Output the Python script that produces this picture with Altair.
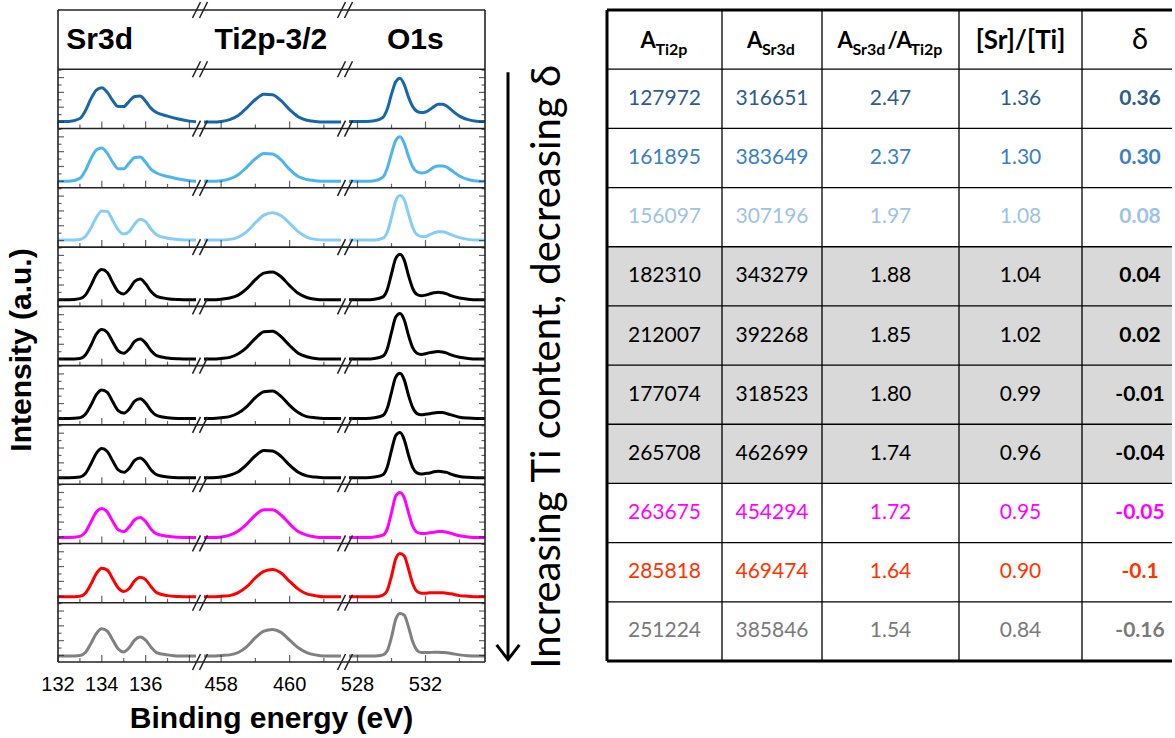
import altair as alt
import pandas as pd

# ---------------- data ----------------
N = 10
LINE_COLORS = ["#1767a8", "#4db5ee", "#86cdf5", "#000000", "#000000",
               "#000000", "#000000", "#ff00ff", "#ff0000", "#808080"]
TEXT_COLORS = ["#2e5d8c", "#3a80c4", "#9dc3e6", "#000000", "#000000",
               "#000000", "#000000", "#ff00ff", "#ff3300", "#7a7a7a"]
ROW_BG = ["#ffffff", "#ffffff", "#ffffff", "#d9d9d9", "#d9d9d9",
          "#d9d9d9", "#d9d9d9", "#ffffff", "#ffffff", "#ffffff"]

SR_E = [132.0, 132.5, 133.0, 133.25, 133.5, 133.75, 134.0, 134.25, 134.5, 134.75, 135.0,
        135.25, 135.5, 135.75, 136.0, 136.25, 136.5, 137.0, 137.5, 138.0, 138.3]
TI_E = [457.5, 457.75, 458.0, 458.25, 458.5, 458.75, 459.0, 459.25, 459.5, 459.75,
        460.0, 460.25, 460.5, 460.75, 461.0, 461.5]
O_E = [527.5, 528.0, 528.5, 529.0, 529.5, 529.75, 530.0, 530.25, 530.5, 530.75, 531.0,
       531.25, 531.5, 531.75, 532.0, 532.25, 532.5, 532.75, 533.0, 533.25, 533.5,
       534.0, 534.5, 535.0, 535.5]

SR_I = [
    [0.12, 0.12, 0.17, 0.30, 0.50, 0.65, 0.69, 0.61, 0.47, 0.37, 0.37, 0.46, 0.54, 0.55, 0.46, 0.34, 0.27, 0.21, 0.16, 0.125, 0.115],
    [0.11, 0.11, 0.16, 0.29, 0.49, 0.64, 0.67, 0.58, 0.43, 0.32, 0.32, 0.42, 0.51, 0.52, 0.43, 0.31, 0.25, 0.19, 0.15, 0.12, 0.11],
    [0.12, 0.12, 0.13, 0.18, 0.32, 0.50, 0.61, 0.60, 0.45, 0.29, 0.22, 0.26, 0.39, 0.47, 0.43, 0.30, 0.21, 0.15, 0.13, 0.12, 0.12],
    [0.11, 0.11, 0.13, 0.19, 0.35, 0.54, 0.62, 0.57, 0.40, 0.25, 0.21, 0.29, 0.42, 0.46, 0.38, 0.25, 0.17, 0.13, 0.115, 0.11, 0.11],
    [0.11, 0.11, 0.12, 0.18, 0.34, 0.53, 0.61, 0.56, 0.40, 0.25, 0.21, 0.28, 0.41, 0.45, 0.38, 0.25, 0.17, 0.13, 0.115, 0.11, 0.11],
    [0.11, 0.11, 0.12, 0.18, 0.33, 0.51, 0.59, 0.55, 0.39, 0.24, 0.20, 0.27, 0.40, 0.44, 0.37, 0.24, 0.16, 0.12, 0.11, 0.11, 0.11],
    [0.11, 0.11, 0.12, 0.18, 0.34, 0.52, 0.60, 0.55, 0.39, 0.24, 0.20, 0.27, 0.40, 0.44, 0.37, 0.24, 0.16, 0.12, 0.11, 0.11, 0.11],
    [0.10, 0.10, 0.12, 0.19, 0.36, 0.53, 0.59, 0.53, 0.37, 0.23, 0.20, 0.28, 0.40, 0.44, 0.37, 0.24, 0.16, 0.12, 0.105, 0.10, 0.10],
    [0.10, 0.10, 0.11, 0.16, 0.31, 0.49, 0.58, 0.55, 0.40, 0.25, 0.19, 0.24, 0.37, 0.43, 0.39, 0.27, 0.17, 0.12, 0.105, 0.10, 0.10],
    [0.10, 0.10, 0.11, 0.16, 0.31, 0.48, 0.56, 0.52, 0.37, 0.22, 0.17, 0.24, 0.37, 0.42, 0.37, 0.25, 0.16, 0.12, 0.10, 0.10, 0.10],
]
TI_I = [
    [0.11, 0.11, 0.12, 0.15, 0.22, 0.35, 0.49, 0.58, 0.57, 0.47, 0.32, 0.20, 0.14, 0.12, 0.11, 0.11],
    [0.11, 0.11, 0.12, 0.15, 0.22, 0.35, 0.49, 0.58, 0.57, 0.47, 0.31, 0.19, 0.14, 0.12, 0.11, 0.11],
    [0.12, 0.12, 0.12, 0.13, 0.17, 0.26, 0.41, 0.54, 0.58, 0.53, 0.40, 0.26, 0.17, 0.13, 0.12, 0.12],
    [0.11, 0.11, 0.12, 0.14, 0.19, 0.30, 0.45, 0.56, 0.58, 0.50, 0.35, 0.22, 0.15, 0.12, 0.11, 0.11],
    [0.11, 0.11, 0.12, 0.14, 0.20, 0.31, 0.46, 0.57, 0.58, 0.49, 0.34, 0.21, 0.15, 0.12, 0.11, 0.11],
    [0.11, 0.11, 0.12, 0.14, 0.20, 0.31, 0.46, 0.56, 0.57, 0.48, 0.33, 0.21, 0.14, 0.12, 0.11, 0.11],
    [0.11, 0.11, 0.12, 0.15, 0.21, 0.33, 0.48, 0.57, 0.56, 0.47, 0.32, 0.20, 0.14, 0.12, 0.11, 0.11],
    [0.10, 0.10, 0.11, 0.14, 0.21, 0.33, 0.48, 0.57, 0.57, 0.48, 0.33, 0.20, 0.14, 0.11, 0.10, 0.10],
    [0.10, 0.10, 0.11, 0.12, 0.17, 0.27, 0.42, 0.53, 0.56, 0.50, 0.36, 0.23, 0.15, 0.12, 0.10, 0.10],
    [0.10, 0.10, 0.11, 0.12, 0.16, 0.26, 0.41, 0.52, 0.55, 0.50, 0.37, 0.24, 0.16, 0.12, 0.10, 0.10],
]
O_I = [
    [0.12, 0.12, 0.12, 0.13, 0.19, 0.33, 0.58, 0.79, 0.85, 0.74, 0.53, 0.37, 0.29, 0.27, 0.28, 0.32, 0.37, 0.41, 0.41, 0.38, 0.32, 0.21, 0.15, 0.125, 0.12],
    [0.11, 0.11, 0.11, 0.12, 0.18, 0.33, 0.58, 0.80, 0.86, 0.75, 0.53, 0.35, 0.27, 0.25, 0.26, 0.30, 0.35, 0.37, 0.37, 0.35, 0.30, 0.20, 0.14, 0.115, 0.11],
    [0.12, 0.12, 0.12, 0.12, 0.15, 0.25, 0.50, 0.78, 0.87, 0.80, 0.56, 0.33, 0.21, 0.18, 0.18, 0.21, 0.24, 0.26, 0.26, 0.24, 0.21, 0.16, 0.13, 0.12, 0.12],
    [0.11, 0.11, 0.11, 0.12, 0.16, 0.28, 0.55, 0.81, 0.88, 0.78, 0.52, 0.30, 0.20, 0.18, 0.19, 0.21, 0.23, 0.24, 0.23, 0.21, 0.18, 0.14, 0.12, 0.11, 0.11],
    [0.11, 0.11, 0.11, 0.12, 0.16, 0.28, 0.56, 0.82, 0.88, 0.77, 0.51, 0.30, 0.21, 0.19, 0.20, 0.22, 0.23, 0.24, 0.23, 0.21, 0.18, 0.14, 0.12, 0.11, 0.11],
    [0.11, 0.11, 0.11, 0.12, 0.16, 0.28, 0.55, 0.81, 0.87, 0.76, 0.50, 0.29, 0.19, 0.17, 0.18, 0.19, 0.20, 0.21, 0.21, 0.19, 0.17, 0.13, 0.115, 0.11, 0.11],
    [0.11, 0.11, 0.11, 0.12, 0.16, 0.29, 0.57, 0.82, 0.87, 0.75, 0.49, 0.28, 0.19, 0.17, 0.18, 0.19, 0.21, 0.22, 0.21, 0.20, 0.17, 0.13, 0.115, 0.11, 0.11],
    [0.10, 0.10, 0.10, 0.11, 0.14, 0.25, 0.52, 0.80, 0.86, 0.77, 0.52, 0.29, 0.19, 0.17, 0.17, 0.18, 0.19, 0.20, 0.20, 0.19, 0.17, 0.13, 0.11, 0.10, 0.10],
    [0.10, 0.10, 0.10, 0.10, 0.13, 0.21, 0.45, 0.74, 0.83, 0.79, 0.57, 0.32, 0.19, 0.16, 0.16, 0.17, 0.17, 0.17, 0.17, 0.16, 0.15, 0.12, 0.11, 0.10, 0.10],
    [0.10, 0.10, 0.10, 0.10, 0.12, 0.19, 0.42, 0.72, 0.82, 0.79, 0.59, 0.34, 0.20, 0.16, 0.16, 0.16, 0.165, 0.165, 0.16, 0.155, 0.145, 0.12, 0.105, 0.10, 0.10],
]

A_TI2P = ["127972", "161895", "156097", "182310", "212007", "177074", "265708", "263675", "285818", "251224"]
A_SR3D = ["316651", "383649", "307196", "343279", "392268", "318523", "462699", "454294", "469474", "385846"]
RATIO = ["2.47", "2.37", "1.97", "1.88", "1.85", "1.80", "1.74", "1.72", "1.64", "1.54"]
SR_TI = ["1.36", "1.30", "1.08", "1.04", "1.02", "0.99", "0.96", "0.95", "0.90", "0.84"]
DELTA = ["0.36", "0.30", "0.08", "0.04", "0.02", "-0.01", "-0.04", "-0.05", "-0.1", "-0.16"]

HEADERS = ["Sr3d", "Ti2p-3/2", "O1s"]
XLABELS = [132, 134, 136, 458, 460, 528, 532]
XTICK_MAJOR = [132, 134, 136, 138, 458, 460, 528, 532]
XTICK_MINOR = [133, 135, 137, 459, 461, 530, 534]
YTICK_MAJOR = [0.11, 0.36, 0.61, 0.86]
YTICK_MINOR = [0.235, 0.485, 0.735, 0.985]
X_TITLE = "Binding energy (eV)"
Y_TITLE = "Intensity (a.u.)"
ARROW_TEXT = "Increasing Ti content, decreasing \u03b4"

# ---------------- layout (not data) ----------------
SEGMENTS = [(132.0, 138.3, 0.0, 138.0), (457.5, 461.5, 146.0, 283.0), (527.5, 535.5, 291.0, 427.0)]
U_MAX = 427.0
HEADER_E = [133.9, 459.45, 531.4]
PLOT_H = 652
PX_PER_Y = PLOT_H / 11.0
MID_W = 122
TABLE_W = 565
COL_EDGES = [0, 115, 215, 352, 475, 591]
FRAME = "#222222"


def seg_k(s):
    return (s[3] - s[2]) / (s[1] - s[0])


def u_expr(f):
    a, b, c = SEGMENTS
    return (f"({f} <= {a[1]} ? {a[2]} + ({f} - {a[0]}) * {seg_k(a)} : "
            f"{f} <= {b[1]} ? {b[2]} + ({f} - {b[0]}) * {seg_k(b)} : "
            f"{c[2]} + ({f} - {c[0]}) * {seg_k(c)})")


a, b, c = SEGMENTS
G1 = (a[3] + b[2]) / 2
G2 = (b[3] + c[2]) / 2

# ---------------- spectra chart ----------------
rows = []
for i in range(N):
    for seg, es, ints in (("sr", SR_E, SR_I), ("ti", TI_E, TI_I), ("o", O_E, O_I)):
        assert len(es) == len(ints[i])
        for e, v in zip(es, ints[i]):
            rows.append({"idx": i, "seg": seg, "E": e, "I": v})
spec = pd.DataFrame(rows)

xs = alt.Scale(domain=[0, U_MAX], nice=False, zero=False)
ys = alt.Scale(domain=[0, 11], nice=False, zero=False)


def X(f="u:Q"):
    return alt.X(f, scale=xs, axis=None)


def Y(f="y:Q"):
    return alt.Y(f, scale=ys, axis=None)


lines = alt.Chart(spec).transform_calculate(
    u=u_expr("datum.E"), y=f"{N - 1} - datum.idx + datum.I"
).mark_line(strokeWidth=3, interpolate="monotone").encode(
    x=X(), y=Y(),
    color=alt.Color("idx:N", scale=alt.Scale(domain=list(range(N)), range=LINE_COLORS), legend=None),
    detail="seg:N",
)

hl = alt.Chart(pd.DataFrame({"y": list(range(12))})).mark_rule(
    color=FRAME, strokeWidth=1.6).encode(y=Y())
vl = alt.Chart(pd.DataFrame({"u": [0, U_MAX]})).mark_rule(
    color=FRAME, strokeWidth=1.6).encode(x=X())

# axis-break marks "//" drawn as two slanted strokes on every horizontal frame line
slashes = []
for g in (G1, G2):
    for k in range(12):
        for side in (-1, 1):
            cx = g + side * 3.5
            slashes.append({"u": cx - 4, "u2": cx + 4, "y": k - 8 / PX_PER_Y, "y2": k + 8 / PX_PER_Y})
brk = alt.Chart(pd.DataFrame(slashes)).mark_rule(color=FRAME, strokeWidth=1.5).encode(
    x=X(), x2="u2:Q", y=Y(), y2="y2:Q")


def xticks(vals, size):
    df = pd.DataFrame([{"E": v, "y": k} for v in vals for k in range(N)])
    return alt.Chart(df).transform_calculate(u=u_expr("datum.E")).mark_tick(
        orient="vertical", size=size, thickness=1.2, yOffset=-size / 2, color=FRAME).encode(x=X(), y=Y())


def yticks(fracs, size, side):
    df = pd.DataFrame([{"u": side, "y": k + f} for f in fracs for k in range(N)])
    off = size / 2 if side == 0 else -size / 2
    return alt.Chart(df).mark_tick(
        orient="horizontal", size=size, thickness=1.2, xOffset=off, color=FRAME).encode(x=X(), y=Y())


hdr = alt.Chart(pd.DataFrame({"label": HEADERS, "E": HEADER_E, "y": [10.5] * 3})).transform_calculate(
    u=u_expr("datum.E")).mark_text(fontSize=30, font="Liberation Sans", fontWeight="bold",
                                   color="black").encode(x=X(), y=Y(), text="label:N")

xlab = alt.Chart(pd.DataFrame({"E": XLABELS, "y": [0] * len(XLABELS),
                               "t": [str(v) for v in XLABELS]})).transform_calculate(
    u=u_expr("datum.E")).mark_text(fontSize=20, font="Liberation Sans", color="black", dy=23).encode(
    x=X(), y=Y(), text="t:N")

xtitle = alt.Chart(pd.DataFrame({"t": [X_TITLE]})).mark_text(
    fontSize=30, font="Liberation Sans", fontWeight="bold", color="black").encode(
    x=alt.value(U_MAX / 2), y=alt.value(PLOT_H + 57), text="t:N")
ytitle = alt.Chart(pd.DataFrame({"t": [Y_TITLE]})).mark_text(
    fontSize=30, font="Liberation Sans", fontWeight="bold", color="black", angle=270).encode(
    x=alt.value(-36), y=alt.value(340), text="t:N")

left = alt.layer(
    lines, hl, vl, brk,
    xticks(XTICK_MAJOR, 7), xticks(XTICK_MINOR, 4),
    yticks(YTICK_MAJOR, 6, 0), yticks(YTICK_MINOR, 3.5, 0),
    yticks(YTICK_MAJOR, 6, U_MAX), yticks(YTICK_MINOR, 3.5, U_MAX),
    hdr, xlab, xtitle, ytitle,
).properties(width=U_MAX, height=PLOT_H)

# ---------------- arrow + caption ----------------
ms = alt.Scale(domain=[0, MID_W], nice=False, zero=False)
arrow_df = pd.DataFrame({"u": [23], "y": [9.95], "y2": [0.04]})
arrow = alt.Chart(arrow_df).mark_rule(strokeWidth=3, color="black").encode(
    x=alt.X("u:Q", scale=ms, axis=None), y=Y(), y2="y2:Q")
head = alt.Chart(arrow_df).mark_point(
    shape="M-1,-1.3L0,0L1,-1.3", size=520, filled=False, strokeWidth=3, color="black", opacity=1).encode(
    x=alt.X("u:Q", scale=ms, axis=None), y=Y("y2:Q"))
cap = alt.Chart(pd.DataFrame({"u": [63], "y": [4.98], "t": [ARROW_TEXT]})).mark_text(
    angle=270, fontSize=40, font="Lato", color="black").encode(
    x=alt.X("u:Q", scale=ms, axis=None), y=Y(), text="t:N")
mid = alt.layer(arrow, head, cap).properties(width=MID_W, height=PLOT_H)

# ---------------- table ----------------
ts_x = alt.Scale(domain=[0, TABLE_W], nice=False, zero=False)
ts_y = alt.Scale(domain=[0, 11], nice=False, zero=False, reverse=True)
centers = [(COL_EDGES[i] + COL_EDGES[i + 1]) / 2 for i in range(5)]


def TX(f="x:Q"):
    return alt.X(f, scale=ts_x, axis=None)


def TY(f="y:Q"):
    return alt.Y(f, scale=ts_y, axis=None)


bg = alt.Chart(pd.DataFrame({"y0": [r + 1 for r in range(N)], "y1": [r + 2 for r in range(N)],
                             "bg": ROW_BG})).mark_rect().encode(
    x=alt.value(0), x2=alt.value(TABLE_W),
    y=TY("y0:Q"), y2="y1:Q", color=alt.Color("bg:N", scale=None))

cols = [A_TI2P, A_SR3D, RATIO, SR_TI, DELTA]
cells = pd.DataFrame([{"x": centers[c], "y": r + 1.5, "t": cols[c][r], "col": TEXT_COLORS[r], "bold": c == 4}
                      for r in range(N) for c in range(5)])
txt_n = alt.Chart(cells).transform_filter("!datum.bold").mark_text(fontSize=21, font="Lato").encode(
    x=TX(), y=TY(), text="t:N", color=alt.Color("col:N", scale=None))
txt_b = alt.Chart(cells).transform_filter("datum.bold").mark_text(
    fontSize=21, font="Lato", fontWeight="bold").encode(
    x=TX(), y=TY(), text="t:N", color=alt.Color("col:N", scale=None))

big = pd.DataFrame([
    {"x": centers[0] - 24, "t": "A"}, {"x": centers[1] - 25, "t": "A"},
    {"x": centers[2] - 53, "t": "A"}, {"x": centers[2] - 3, "t": "/A"},
])
sub = pd.DataFrame([
    {"x": centers[0] - 9, "t": "Ti2p"}, {"x": centers[1] - 10, "t": "Sr3d"},
    {"x": centers[2] - 38, "t": "Sr3d"}, {"x": centers[2] + 20, "t": "Ti2p"},
])
big["y"] = 0.5
sub["y"] = 0.5


def hdr_text(df, size, dy, weight="bold", align="left"):
    return alt.Chart(df).mark_text(fontSize=size, font="Lato", fontWeight=weight, align=align,
                                   dy=dy, color="black").encode(x=TX(), y=TY(), text="t:N")


h_big = hdr_text(big, 22, 1)
h_sub = hdr_text(sub, 16, 10)
h_sr = hdr_text(pd.DataFrame({"x": [centers[3]], "y": [0.5], "t": ["[Sr]/[Ti]"]}), 26, 1, align="center")
h_d = hdr_text(pd.DataFrame({"x": [centers[4]], "y": [0.5], "t": ["\u03b4"]}), 29, 0, weight="normal",
               align="center")

thin_h = alt.Chart(pd.DataFrame({"y": list(range(1, 11))})).mark_rule(color="black", strokeWidth=1.3).encode(y=TY())
thick_h = alt.Chart(pd.DataFrame({"y": [0, 11]})).mark_rule(color="black", strokeWidth=3).encode(y=TY())
thin_v = alt.Chart(pd.DataFrame({"x": COL_EDGES[1:5]})).mark_rule(color="black", strokeWidth=1.3).encode(x=TX())
thick_v = alt.Chart(pd.DataFrame({"x": [0]})).mark_rule(color="black", strokeWidth=3).encode(x=TX())

table = alt.layer(bg, thin_h, thin_v, thick_h, thick_v, txt_n, txt_b, h_big, h_sub, h_sr, h_d).properties(
    width=TABLE_W, height=651)

chart = alt.hconcat(left, mid, table, spacing=0, bounds="flush").properties(
    padding={"left": 7, "top": 1, "right": 0, "bottom": 0}
).configure_view(strokeWidth=0)

chart.save("out.html", embed_options={"renderer": "svg", "actions": False})
